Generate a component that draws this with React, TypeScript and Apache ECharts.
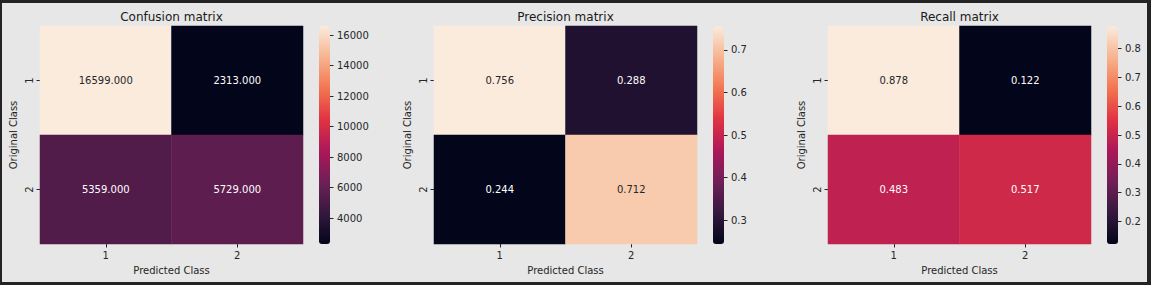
import React, { useEffect, useRef } from "react";
import * as echarts from "echarts";

const classes = ["1", "2"];
const titles = ["Confusion matrix", "Precision matrix", "Recall matrix"];
const confusionValues = [
  [16599, 2313],
  [5359, 5729],
];
const precisionValues = [
  [0.756, 0.288],
  [0.244, 0.712],
];
const recallValues = [
  [0.878, 0.122],
  [0.483, 0.517],
];
const confusionTicks = [4000, 6000, 8000, 10000, 12000, 14000, 16000];
const precisionTicks = [0.3, 0.4, 0.5, 0.6, 0.7];
const recallTicks = [0.2, 0.3, 0.4, 0.5, 0.6, 0.7, 0.8];

const rocket = ["#03051a", "#35193e", "#701f57", "#ad1759", "#e13342", "#f37651", "#f6b48f", "#faebdd"];

const FONT = "DejaVu Sans";
const TEXT = "#262626";

export default function App() {
  const ref = useRef<HTMLDivElement>(null);
  useEffect(() => {
    document.body.style.margin = "0";
    const chart = echarts.init(ref.current!, null, { renderer: "svg" });
    const panels = [
      { title: titles[0], values: confusionValues, ticks: confusionTicks, fmt: (v: number) => String(Math.round(v)) },
      { title: titles[1], values: precisionValues, ticks: precisionTicks, fmt: (v: number) => v.toFixed(1) },
      { title: titles[2], values: recallValues, ticks: recallTicks, fmt: (v: number) => v.toFixed(1) },
    ];
    const grid: any[] = [];
    const xAxis: any[] = [];
    const yAxis: any[] = [];
    const series: any[] = [];
    const visualMap: any[] = [];
    const graphic: any[] = [
      { type: "rect", z: -10, silent: true, shape: { x: 2, y: 3, width: 1145, height: 279 }, style: { fill: "#e7e7e7" } },
    ];
    panels.forEach((p, i) => {
      const off = 394 * i;
      const flat = p.values.flat();
      const mn = Math.min(...flat);
      const mx = Math.max(...flat);
      grid.push({ left: 40 + off, top: 26, width: 263, height: 218 });
      grid.push({ left: 319 + off, top: 26, width: 11, height: 218 });
      xAxis.push({
        gridIndex: 2 * i,
        type: "category",
        data: classes,
        axisLine: { show: false },
        axisTick: { show: true, alignWithLabel: true, length: 3.5, lineStyle: { color: TEXT } },
        axisLabel: { fontSize: 10, color: TEXT, fontFamily: FONT, margin: 6 },
        splitLine: { show: false },
        name: "Predicted Class",
        nameLocation: "middle",
        nameGap: 21,
        nameTextStyle: { fontSize: 10, color: TEXT, fontFamily: FONT },
      });
      xAxis.push({ gridIndex: 2 * i + 1, type: "category", show: false });
      yAxis.push({
        gridIndex: 2 * i,
        type: "category",
        data: classes,
        inverse: true,
        axisLine: { show: false },
        axisTick: { show: true, alignWithLabel: true, length: 3.5, lineStyle: { color: TEXT } },
        axisLabel: { fontSize: 10, color: TEXT, fontFamily: FONT, margin: 6, rotate: 90 },
        splitLine: { show: false },
        name: "Original Class",
        nameLocation: "middle",
        nameGap: 22,
        nameTextStyle: { fontSize: 10, color: TEXT, fontFamily: FONT },
      });
      yAxis.push({
        gridIndex: 2 * i + 1,
        type: "value",
        position: "right",
        min: mn,
        max: mx,
        axisLine: { show: false },
        splitLine: { show: false },
        axisTick: { show: true, length: 3.5, customValues: p.ticks, lineStyle: { color: TEXT } },
        axisLabel: {
          customValues: p.ticks,
          fontSize: 10,
          color: TEXT,
          fontFamily: FONT,
          margin: 7,
          formatter: (v: number) => p.fmt(v),
        },
      });
      const data: any[] = [];
      p.values.forEach((row, r) =>
        row.forEach((v, c) => {
          const t = (v - mn) / (mx - mn);
          data.push({ value: [c, r, v], label: { color: t > 0.6 ? TEXT : "#ffffff" } });
        })
      );
      series.push({
        type: "heatmap",
        xAxisIndex: 2 * i,
        yAxisIndex: 2 * i,
        data,
        itemStyle: { borderWidth: 0 },
        label: {
          show: true,
          fontSize: 10,
          fontFamily: FONT,
          formatter: (prm: any) => Number(prm.value[2]).toFixed(3),
        },
        emphasis: { disabled: true },
      });
      visualMap.push({
        type: "continuous",
        seriesIndex: i,
        dimension: 2,
        min: mn,
        max: mx,
        calculable: false,
        left: 319 + off,
        top: 26,
        padding: 0,
        itemWidth: 11,
        itemHeight: 218,
        inRange: { color: rocket },
        hoverLink: false,
      });
      graphic.push({
        type: "text",
        x: 171.5 + off,
        y: 17,
        style: { text: p.title, align: "center", verticalAlign: "middle", fontSize: 12, fontFamily: FONT, fill: "#1a1a1a" },
      });
    });
    chart.setOption({
      animation: false,
      backgroundColor: "#232323",
      textStyle: { fontFamily: FONT },
      grid,
      xAxis,
      yAxis,
      series,
      visualMap,
      graphic,
    });
    return () => chart.dispose();
  }, []);
  return <div ref={ref} style={{ width: 1151, height: 285 }} />;
}
